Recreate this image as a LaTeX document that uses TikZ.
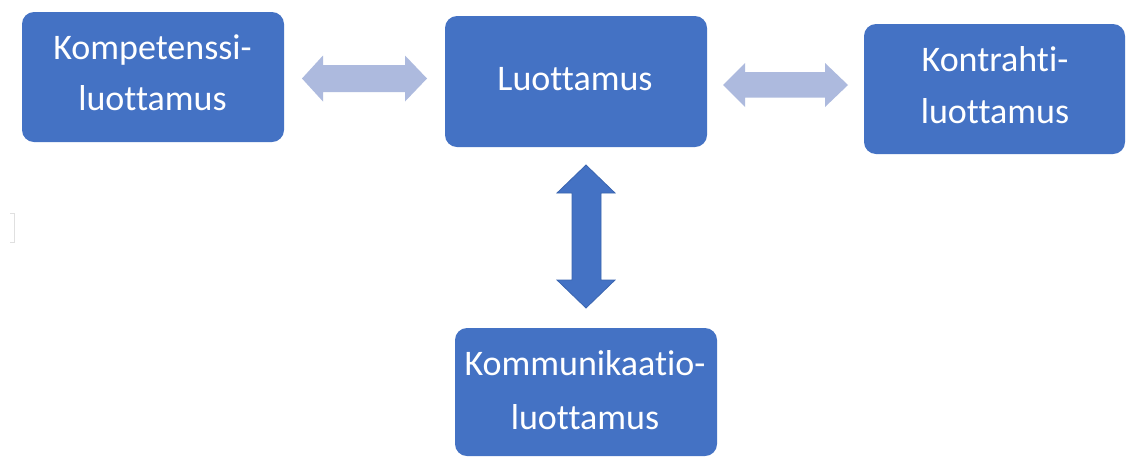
\documentclass[tikz,border=0pt]{standalone}
\usepackage{fontspec}
\setmainfont{Carlito}[Ligatures={NoCommon}]
\definecolor{boxblue}{HTML}{4472C4}
\definecolor{lightarrow}{HTML}{ADBADE}
\definecolor{darkedge}{HTML}{3A65B0}
\begin{document}
\begin{tikzpicture}[x=1pt,y=-1pt,
  box/.style={fill=boxblue, rounded corners=12pt, inner sep=0pt, anchor=center},
  txt/.style={text=white, font=\fontsize{36}{43}\selectfont, inner sep=0pt, anchor=base},
  lightarr/.style={fill=lightarrow, draw=none},
  darkarr/.style={fill=boxblue, draw=darkedge, line width=0.8pt}]
\useasboundingbox[fill=white] (0,0) rectangle (1126,456);

\node[box, minimum width=262pt, minimum height=130pt] (komp) at (153,77) {};
\node[txt] (komp1) at (152.5,59) {Kompetenssi-};
\node[txt] (komp2) at (152.5,110) {luottamus};

\node[box, minimum width=262pt, minimum height=131pt] (luot) at (576,81.5) {};
\node[txt] (luot1) at (575,90) {Luottamus};

\node[box, minimum width=261pt, minimum height=130pt] (kont) at (994.5,89) {};
\node[txt] (kont1) at (995,71.5) {Kontrahti-};
\node[txt] (kont2) at (995,123) {luottamus};

\node[box, minimum width=262pt, minimum height=128pt] (komm) at (586,392) {};
\node[txt] (komm1) at (585,375) {Kommunikaatio-};
\node[txt] (komm2) at (585,429) {luottamus};

% horizontal double arrow between komp and luot
\coordinate (a1l) at (302,78.5);
\coordinate (a1r) at (427,78.5);
\fill[lightarr] (a1l) -- (323,55.5) -- (323,65) -- (405,65) -- (405,55.5)
  -- (a1r) -- (405,101.5) -- (405,92) -- (323,92) -- (323,101.5) -- cycle;

% horizontal double arrow between luot and kont
\coordinate (a2l) at (723,85);
\coordinate (a2r) at (848,85);
\fill[lightarr] (a2l) -- (745,63) -- (745,72) -- (825,72) -- (825,63)
  -- (a2r) -- (825,107) -- (825,97.5) -- (745,97.5) -- (745,107) -- cycle;

% vertical double arrow between luot and komm
\coordinate (a3t) at (586,165);
\coordinate (a3b) at (586,308);
\filldraw[darkarr] (a3t) -- (615,193) -- (601,193) -- (601,280) -- (615,280)
  -- (a3b) -- (557,280) -- (572,280) -- (572,193) -- (557,193) -- cycle;

% faint bracket mark at left
\draw[black!12, line width=0.8pt] (10,213) -- (14,213) -- (14,242) -- (10,242);
\end{tikzpicture}
\end{document}
